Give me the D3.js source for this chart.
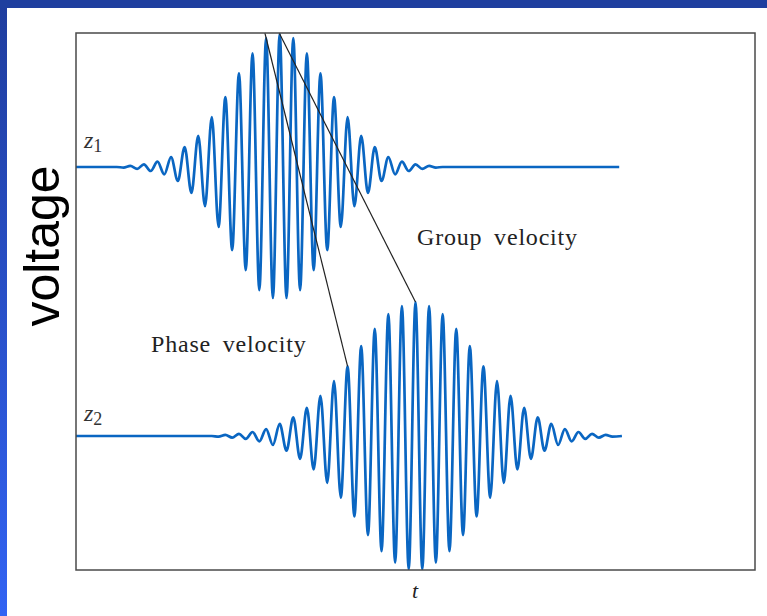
<!DOCTYPE html>
<html>
<head>
<meta charset="utf-8">
<script src="https://cdn.jsdelivr.net/npm/d3@7"></script>
<style>
  html, body { margin: 0; padding: 0; background: #ffffff; }
  svg { display: block; }
</style>
</head>
<body>
<svg id="chart" width="767" height="616"></svg>
<script>
// Wave packet at position z1: times (t) of the baseline anchors and of each
// crest / trough, and the voltage reached there (normalised to the peak).
const t1 = [0, 0.6,
  0.7, 0.8, 0.9, 1.0, 1.1, 1.2, 1.3, 1.4, 1.5, 1.6, 1.7, 1.8, 1.9, 2.0, 2.1, 2.2,
  2.3, 2.4, 2.5, 2.6, 2.7, 2.8, 2.9, 3.0, 3.1, 3.2, 3.3, 3.4, 3.5, 3.6, 3.7, 3.8,
  3.9, 4.0, 4.1, 4.2, 4.3, 4.4, 4.5, 4.6, 4.7, 4.8, 4.9, 5.0, 5.1, 5.2, 5.3,
  5.4, 8.0];
const v1 = [0, 0,
  -0.004, 0.008, -0.014, 0.02, -0.03, 0.04, -0.056, 0.075, -0.105, 0.15, -0.195,
  0.235, -0.295, 0.375, -0.45, 0.525, -0.625, 0.705, -0.775, 0.855, -0.925, 0.97,
  -0.985, 1.0, -0.985, 0.97, -0.925, 0.855, -0.775, 0.705, -0.625, 0.525, -0.45,
  0.375, -0.295, 0.235, -0.195, 0.15, -0.105, 0.075, -0.056, 0.04, -0.03, 0.02,
  -0.014, 0.008, -0.004,
  0, 0];

// Wave packet further along, at z2: later and spread wider by dispersion.
const t2 = [0, 2.0,
  2.1, 2.2, 2.3, 2.4, 2.5, 2.6, 2.7, 2.8, 2.9, 3.0, 3.1, 3.2, 3.3, 3.4, 3.5, 3.6,
  3.7, 3.8, 3.9, 4.0, 4.1, 4.2, 4.3, 4.4, 4.5, 4.6, 4.7, 4.8, 4.9, 5.0, 5.1, 5.2,
  5.3, 5.4, 5.5, 5.6, 5.7, 5.8, 5.9, 6.0, 6.1, 6.2, 6.3, 6.4, 6.5, 6.6, 6.7, 6.8,
  6.9, 7.0, 7.1, 7.2, 7.3, 7.4, 7.5, 7.6, 7.7, 7.8, 7.9,
  8.04];
const v2 = [0, 0,
  -0.005, 0.008, -0.012, 0.016, -0.022, 0.03, -0.04, 0.052, -0.067, 0.09, -0.11,
  0.14, -0.17, 0.21, -0.25, 0.30, -0.35, 0.41, -0.46, 0.52, -0.60, 0.67, -0.74,
  0.80, -0.86, 0.91, -0.945, 0.97, -0.995, 1.0, -0.995, 0.97, -0.945, 0.91, -0.86,
  0.80, -0.74, 0.67, -0.60, 0.52, -0.46, 0.41, -0.35, 0.30, -0.25, 0.21, -0.17,
  0.14, -0.11, 0.09, -0.067, 0.052, -0.04, 0.03, -0.022, 0.016, -0.012, 0.008,
  -0.005,
  0];

// The same crest seen at z1 and at z2 (phase), and the envelope peak (group).
const phaseT = [2.8, 4.0];
const phaseV = [0.97, 0.52];
const groupT = [3.0, 5.0];
const groupV = [1.0, 1.0];

const traceLabels = ["1", "2"];
const annotationLabels = ["Group velocity", "Phase velocity"];
const axisLabelX = "t";
const axisLabelY = "voltage";

// ---------------------------------------------------------------------------
const svg = d3.select("#chart");
const W = 767, H = 616;
const box = { left: 76, top: 33, right: 755, bottom: 570 };

// Slide frame: dark band on top, blue gradient strip on the left.
const defs = svg.append("defs");
const grad = defs.append("linearGradient")
  .attr("id", "edge").attr("x1", 0).attr("y1", 0).attr("x2", 0).attr("y2", 1);
grad.append("stop").attr("offset", "0%").attr("stop-color", "#1f3d9e");
grad.append("stop").attr("offset", "100%").attr("stop-color", "#3263f3");

svg.append("rect").attr("width", W).attr("height", H).attr("fill", "#ffffff");
svg.append("rect").attr("x", 0).attr("y", 0).attr("width", 7).attr("height", H)
  .attr("fill", "url(#edge)");
svg.append("rect").attr("x", 0).attr("y", 0).attr("width", W).attr("height", 8)
  .attr("fill", "#1f3f9f");

// Scales: one time axis, and a voltage band for each trace.
const x = d3.scaleLinear().domain([0, 10]).range([box.left, box.right]);
const y1 = d3.scaleLinear().domain([-1, 1]).range([300, 34]);
const y2 = d3.scaleLinear().domain([-1, 1]).range([570, 302]);

defs.append("clipPath").attr("id", "plotClip")
  .append("rect")
  .attr("x", box.left).attr("y", box.top)
  .attr("width", box.right - box.left).attr("height", box.bottom - box.top);

const plot = svg.append("g").attr("clip-path", "url(#plotClip)");

const waveColor = "#0a66c2";
function drawTrace(ts, vs, yScale) {
  const pts = ts.map((t, i) => [t, vs[i]]);
  const line = d3.line()
    .x(d => x(d[0]))
    .y(d => yScale(d[1]))
    .curve(d3.curveMonotoneX);
  plot.append("path")
    .attr("d", line(pts))
    .attr("fill", "none")
    .attr("stroke", waveColor)
    .attr("stroke-width", 2.7)
    .attr("stroke-linejoin", "round");
}
drawTrace(t1, v1, y1);
drawTrace(t2, v2, y2);

// Velocity lines: from the z1 feature (extended up to the frame) to the z2 one.
function drawVelocity(ts, vs) {
  const xa = x(ts[0]), ya = y1(vs[0]);
  const xb = x(ts[1]), yb = y2(vs[1]);
  const k = (box.top - ya) / (yb - ya);
  const xTop = xa + k * (xb - xa);
  svg.append("line")
    .attr("x1", xTop).attr("y1", box.top)
    .attr("x2", xb).attr("y2", yb)
    .attr("stroke", "#222")
    .attr("stroke-width", 1.2);
}
drawVelocity(phaseT, phaseV);
drawVelocity(groupT, groupV);

// Plot frame.
svg.append("rect")
  .attr("x", box.left).attr("y", box.top)
  .attr("width", box.right - box.left).attr("height", box.bottom - box.top)
  .attr("fill", "none")
  .attr("stroke", "#4a4a4a")
  .attr("stroke-width", 1.5);

const serif = "'Liberation Serif', 'DejaVu Serif', serif";

// Trace labels z1, z2.
[[148, traceLabels[0]], [421, traceLabels[1]]].forEach(([yy, sub]) => {
  const t = svg.append("text")
    .attr("x", 84).attr("y", yy)
    .attr("font-family", serif)
    .attr("font-size", 24)
    .attr("fill", "#333");
  t.append("tspan").attr("font-style", "italic").text("z");
  t.append("tspan").attr("dy", 4).attr("font-size", 18).text(sub);
});

// Annotations.
svg.append("text")
  .attr("x", 417).attr("y", 245)
  .attr("font-family", serif).attr("font-size", 24)
  .attr("letter-spacing", "0.8px").attr("word-spacing", "5px")
  .attr("fill", "#222")
  .text(annotationLabels[0]);
svg.append("text")
  .attr("x", 151).attr("y", 352)
  .attr("font-family", serif).attr("font-size", 24)
  .attr("letter-spacing", "0.8px").attr("word-spacing", "5px")
  .attr("fill", "#222")
  .text(annotationLabels[1]);

// Axis labels.
svg.append("text")
  .attr("x", 415).attr("y", 598)
  .attr("text-anchor", "middle")
  .attr("font-family", serif).attr("font-style", "italic").attr("font-size", 22)
  .attr("fill", "#222")
  .text(axisLabelX);

svg.append("text")
  .attr("transform", "translate(59,246) rotate(-90)")
  .attr("text-anchor", "middle")
  .attr("font-family", "'Liberation Sans', Arial, sans-serif")
  .attr("font-size", 50)
  .attr("fill", "#000")
  .text(axisLabelY);
</script>
</body>
</html>
